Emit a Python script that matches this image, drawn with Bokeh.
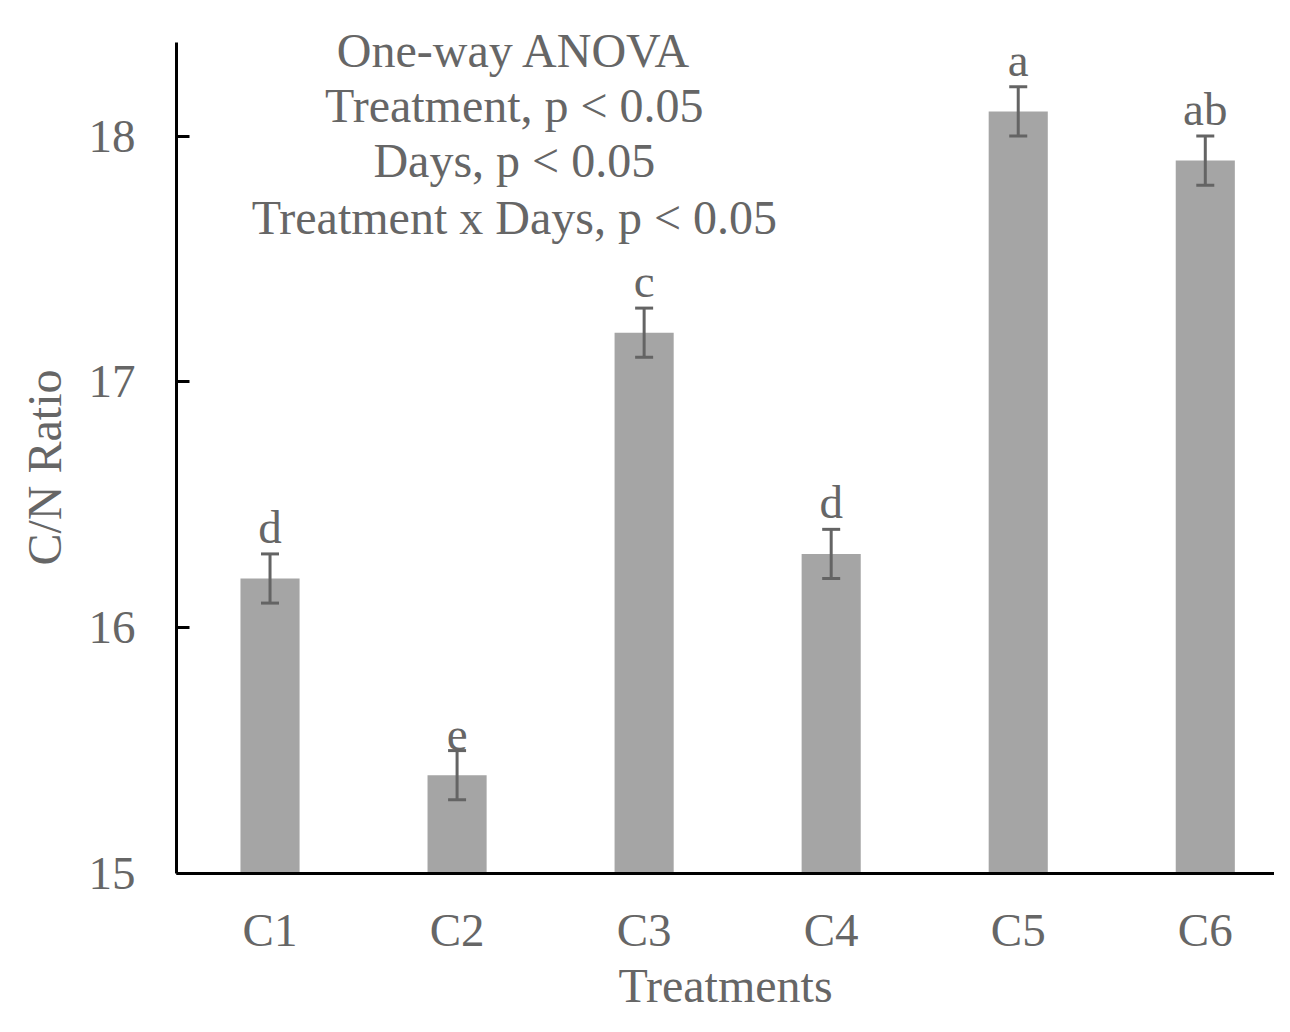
from bokeh.plotting import figure
from bokeh.models import Range1d, FixedTicker, ColumnDataSource, Whisker, TeeHead, Title
from bokeh.embed import file_html
from bokeh.resources import INLINE
from bokeh.core.properties import value

categories = ["C1", "C2", "C3", "C4", "C5", "C6"]
cn_ratio = [16.2, 15.4, 17.2, 16.3, 18.1, 17.9]
errors = [0.1, 0.1, 0.1, 0.1, 0.1, 0.1]
letters = ["d", "e", "c", "d", "a", "ab"]
anova_lines = ["One-way ANOVA", "Treatment, p < 0.05", "Days, p < 0.05",
               "Treatment x Days, p < 0.05"]
anova_y = [18.347, 18.124, 17.90, 17.668]
anova_x = [1.806, 1.806, 1.806, 1.806]
y_ticks = [15, 16, 17, 18]
y_axis_top = 18.38

FONT = "Liberation Serif"
TXT = "#666666"
ERR = "#646464"

xs = [i + 0.5 for i in range(len(categories))]
src = ColumnDataSource(dict(
    x=xs, top=cn_ratio,
    upper=[v + e for v, e in zip(cn_ratio, errors)],
    lower=[v - e for v, e in zip(cn_ratio, errors)],
    letter=letters,
))

p = figure(width=1274, height=1016, output_backend="svg", toolbar_location=None,
           x_range=Range1d(0, 5.87), y_range=Range1d(15, 18.535),
           min_border_left=176, min_border_right=0, min_border_top=4,
           min_border_bottom=143)
p.outline_line_color = None
p.grid.grid_line_color = None
p.background_fill_color = "white"

p.vbar(x="x", top="top", bottom=15, width=0.316, source=src,
       fill_color="#a5a5a5", line_color=None)

w = Whisker(base="x", upper="upper", lower="lower", source=src,
            line_color=ERR, line_width=3, level="overlay",
            upper_head=TeeHead(size=18, line_color=ERR, line_width=3),
            lower_head=TeeHead(size=18, line_color=ERR, line_width=3))
p.add_layout(w)

p.text(x="x", y="upper", text="letter", source=src, text_align="center",
       text_baseline="bottom", y_offset=-1,
       text_font=value(FONT), text_font_size="47px", text_color=TXT)

p.text(x=anova_x, y=anova_y, text=anova_lines, text_align="center",
       text_baseline="middle", text_font=value(FONT),
       text_font_size="48px", text_color=TXT)

# x axis
p.xaxis.ticker = FixedTicker(ticks=xs)
p.xaxis.major_label_overrides = {x: c for x, c in zip(xs, categories)}
p.xaxis.major_tick_line_color = None
p.xaxis.minor_tick_line_color = None
p.xaxis.axis_line_color = "black"
p.xaxis.axis_line_width = 3
p.xaxis.major_label_text_font = FONT
p.xaxis.major_label_text_font_size = "47px"
p.xaxis.major_label_text_color = TXT
p.xaxis.major_label_standoff = 24
p.xaxis.axis_label = "Treatments"
p.xaxis.axis_label_text_font = FONT
p.xaxis.axis_label_text_font_size = "48px"
p.xaxis.axis_label_text_font_style = "normal"
p.xaxis.axis_label_text_color = TXT
p.xaxis.axis_label_standoff = 0

# y axis
p.yaxis.ticker = FixedTicker(ticks=y_ticks)
p.yaxis.bounds = (y_ticks[0], y_axis_top)
p.yaxis.major_tick_in = 13
p.yaxis.major_tick_out = 0
p.yaxis.major_tick_line_width = 3
p.yaxis.major_tick_line_color = "black"
p.yaxis.minor_tick_line_color = None
p.yaxis.axis_line_color = "black"
p.yaxis.axis_line_width = 3
p.yaxis.major_label_text_font = FONT
p.yaxis.major_label_text_font_size = "47px"
p.yaxis.major_label_text_color = TXT
p.yaxis.major_label_standoff = 41

ytitle = Title(text="C/N Ratio", align="left", offset=308, standoff=30,
               text_font=FONT, text_font_size="48px", text_font_style="normal",
               text_color=TXT)
p.add_layout(ytitle, "left")

open("out.html", "w").write(file_html(p, INLINE))
